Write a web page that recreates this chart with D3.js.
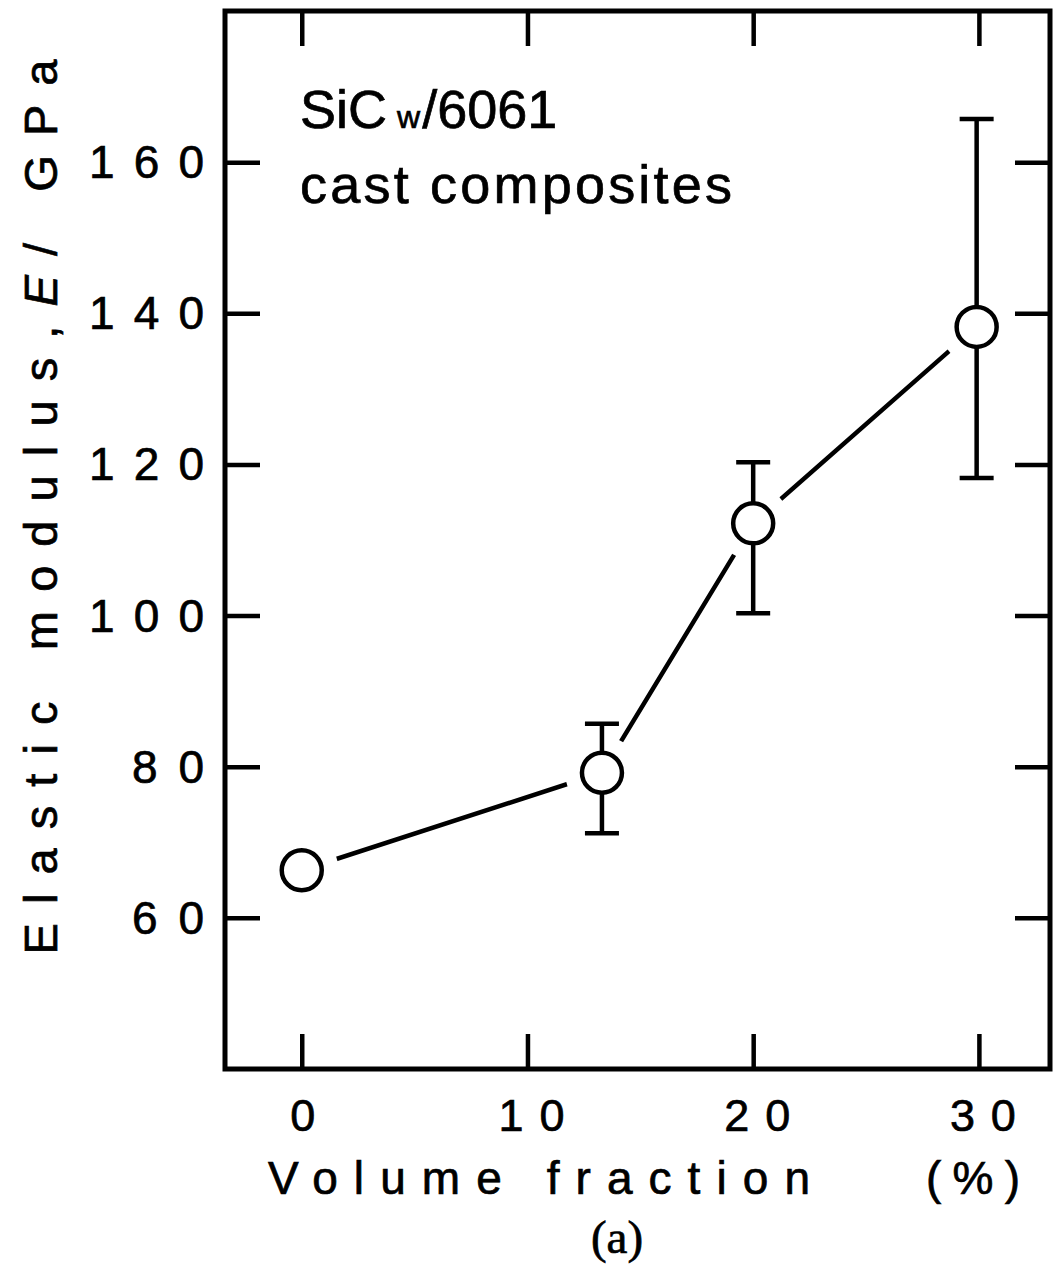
<!DOCTYPE html>
<html>
<head>
<meta charset="utf-8">
<script src="https://cdn.jsdelivr.net/npm/d3@7"></script>
<style>
  body { margin: 0; background: #fff; }
  svg { display: block; }
  text { stroke: #000; stroke-width: 0.7px; }
</style>
</head>
<body>
<div id="chart"></div>
<script>
// values
const volumeFraction = [0, 13.3, 20, 29.9];
const modulus = [66.3, 79.2, 112.2, 138.2];
const errLow = [null, 71.2, 100.3, 118.2];
const errHigh = [null, 85.7, 120.3, 165.7];
const xTicks = [0, 10, 20, 30];
const yTicks = [60, 80, 100, 120, 140, 160];

const width = 1053;
const height = 1272;
const ink = "#000";
const font = "'Liberation Sans', Arial, Helvetica, sans-serif";

const svg = d3.select("#chart")
  .append("svg")
  .attr("width", width)
  .attr("height", height);

const x = d3.scaleLinear().domain([-3.4, 33.15]).range([225, 1050]);
const y = d3.scaleLinear().domain([40, 180]).range([1069, 11]);

const points = volumeFraction.map((v, i) => ({
  vf: v, e: modulus[i], lo: errLow[i], hi: errHigh[i]
}));

// frame
svg.append("rect")
  .attr("x", x.range()[0])
  .attr("y", y.range()[1])
  .attr("width", x.range()[1] - x.range()[0])
  .attr("height", y.range()[0] - y.range()[1])
  .attr("fill", "none")
  .attr("stroke", ink)
  .attr("stroke-width", 5);

// ticks on all four sides, pointing inward
const tickLen = 35;
const bottomAxis = d3.axisBottom(x).tickValues(xTicks).tickSize(-tickLen).tickFormat("");
const topAxis = d3.axisTop(x).tickValues(xTicks).tickSize(-tickLen).tickFormat("");
const leftAxis = d3.axisLeft(y).tickValues(yTicks).tickSize(-tickLen).tickFormat("");
const rightAxis = d3.axisRight(y).tickValues(yTicks).tickSize(-tickLen).tickFormat("");

[[bottomAxis, `translate(0,${y.range()[0]})`],
 [topAxis, `translate(0,${y.range()[1]})`],
 [leftAxis, `translate(${x.range()[0]},0)`],
 [rightAxis, `translate(${x.range()[1]},0)`]].forEach(([axis, tr]) => {
  const g = svg.append("g").attr("transform", tr).call(axis);
  g.select(".domain").remove();
  g.selectAll(".tick line").attr("stroke", ink).attr("stroke-width", 4.5);
});

// tick labels
svg.append("g").selectAll("text")
  .data(yTicks)
  .join("text")
  .attr("x", 204)
  .attr("y", d => y(d) + 16)
  .attr("text-anchor", "end")
  .attr("font-family", font)
  .attr("font-size", 46)
  .attr("textLength", d => 43 * (String(d).length - 1) + 29)
  .attr("lengthAdjust", "spacing")
  .attr("fill", ink)
  .text(d => d);

svg.append("g").selectAll("text")
  .data(xTicks)
  .join("text")
  .attr("x", d => x(d) + (d === 0 ? 1 : 4))
  .attr("y", 1131)
  .attr("text-anchor", "middle")
  .attr("font-family", font)
  .attr("font-size", 45)
  .attr("textLength", d => d === 0 ? 26 : 66)
  .attr("lengthAdjust", "spacing")
  .attr("fill", ink)
  .text(d => d);

// axis titles
svg.append("text")
  .attr("x", 268)
  .attr("y", 1194)
  .attr("font-family", font)
  .attr("font-size", 46)
  .attr("textLength", 542)
  .attr("lengthAdjust", "spacing")
  .attr("fill", ink)
  .text("Volume fraction");

svg.append("text")
  .attr("x", 926)
  .attr("y", 1194)
  .attr("font-family", font)
  .attr("font-size", 46)
  .attr("textLength", 94)
  .attr("lengthAdjust", "spacing")
  .attr("fill", ink)
  .text("(%)");

const yTitle = svg.append("text")
  .attr("transform", "translate(57,507) rotate(-90)")
  .attr("text-anchor", "middle")
  .attr("font-family", font)
  .attr("font-size", 47)
  .attr("textLength", 895)
  .attr("lengthAdjust", "spacing")
  .attr("fill", ink);
yTitle.append("tspan").text("Elastic modulus,");
yTitle.append("tspan").attr("font-style", "italic").text("E");
yTitle.append("tspan").text("/ GPa");

// panel caption
svg.append("text")
  .attr("x", 617)
  .attr("y", 1253)
  .attr("text-anchor", "middle")
  .attr("font-family", "'Liberation Serif', 'Times New Roman', serif")
  .attr("font-size", 47)
  .attr("fill", ink)
  .text("(a)");

// annotation
const label = svg.append("text")
  .attr("x", 300)
  .attr("y", 128)
  .attr("font-family", font)
  .attr("font-size", 54)
  .attr("fill", ink);
label.append("tspan").text("SiC");
label.append("tspan").attr("font-size", 32).attr("dx", 10).text("w");
label.append("tspan").attr("dx", 2).text("/6061");

svg.append("text")
  .attr("x", 300)
  .attr("y", 203)
  .attr("font-family", font)
  .attr("font-size", 54)
  .attr("textLength", 432)
  .attr("lengthAdjust", "spacing")
  .attr("fill", ink)
  .text("cast composites");

// connecting line, with a white halo round each marker to leave the gap
const line = d3.line().x(d => x(d.vf)).y(d => y(d.e));
svg.append("path")
  .datum(points)
  .attr("d", line)
  .attr("fill", "none")
  .attr("stroke", ink)
  .attr("stroke-width", 4.5);

svg.append("g").selectAll("circle")
  .data(points)
  .join("circle")
  .attr("cx", d => x(d.vf))
  .attr("cy", d => y(d.e))
  .attr("r", 37)
  .attr("fill", "#fff");

// error bars
const capHalf = 17;
const bars = svg.append("g")
  .selectAll("g")
  .data(points.filter(d => d.lo !== null))
  .join("g")
  .attr("stroke", ink)
  .attr("stroke-width", 4.5);
bars.append("line")
  .attr("x1", d => x(d.vf)).attr("x2", d => x(d.vf))
  .attr("y1", d => y(d.lo)).attr("y2", d => y(d.hi));
bars.append("line")
  .attr("x1", d => x(d.vf) - capHalf).attr("x2", d => x(d.vf) + capHalf)
  .attr("y1", d => y(d.hi)).attr("y2", d => y(d.hi));
bars.append("line")
  .attr("x1", d => x(d.vf) - capHalf).attr("x2", d => x(d.vf) + capHalf)
  .attr("y1", d => y(d.lo)).attr("y2", d => y(d.lo));

// open markers
svg.append("g").selectAll("circle")
  .data(points)
  .join("circle")
  .attr("cx", d => x(d.vf))
  .attr("cy", d => y(d.e))
  .attr("r", 20)
  .attr("fill", "#fff")
  .attr("stroke", ink)
  .attr("stroke-width", 4.5);
</script>
</body>
</html>
